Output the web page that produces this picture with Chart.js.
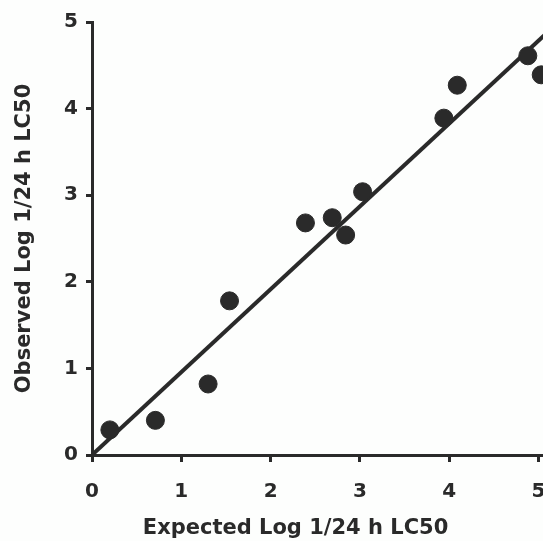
<!DOCTYPE html>
<html>
<head>
<meta charset="utf-8">
<script src="https://cdn.jsdelivr.net/npm/chart.js@4/dist/chart.umd.min.js"></script>
<style>
html,body{margin:0;padding:0;background:#fdfefd;}
#wrap{width:543px;height:541px;}
</style>
</head>
<body>
<div id="wrap"><canvas id="c" width="543" height="541"></canvas></div>
<script>
const expected = [0.20, 0.71, 1.30, 1.54, 2.39, 2.69, 2.84, 3.03, 3.94, 4.09, 4.88, 5.03];
const observed = [0.29, 0.40, 0.82, 1.78, 2.68, 2.74, 2.54, 3.04, 3.89, 4.27, 4.61, 4.39];
const fitX = [0, 5.1];
const fitY = [0, 4.88];
const xTicks = [0, 1, 2, 3, 4, 5];
const yTicks = [0, 1, 2, 3, 4, 5];
const xTitle = "Expected Log 1/24 h LC50";
const yTitle = "Observed Log 1/24 h LC50";

const ink = '#2a2a2a';
const tickFont = {family: 'DejaVu Sans', weight: 'bold', size: 20};
const titleFont = {family: 'DejaVu Sans', weight: 'bold', size: 21};

const bg = {
  id: 'bg',
  beforeDraw(chart) {
    const ctx = chart.ctx;
    ctx.save();
    ctx.fillStyle = '#fdfefd';
    ctx.fillRect(0, 0, chart.width, chart.height);
    ctx.restore();
  }
};

new Chart(document.getElementById('c'), {
  type: 'scatter',
  data: {
    datasets: [
      {
        type: 'line',
        data: fitX.map((x, i) => ({x, y: fitY[i]})),
        borderColor: ink,
        borderWidth: 4,
        pointRadius: 0,
        fill: false,
        order: 2
      },
      {
        data: expected.map((x, i) => ({x, y: observed[i]})),
        backgroundColor: ink,
        borderColor: ink,
        pointRadius: 9,
        pointHoverRadius: 9,
        clip: false,
        order: 1
      }
    ]
  },
  plugins: [bg],
  options: {
    responsive: false,
    animation: false,
    events: [],
    layout: {autoPadding: false, padding: {top: 22, right: 0, left: 0, bottom: 0}},
    plugins: {legend: {display: false}, tooltip: {enabled: false}},
    scales: {
      x: {
        type: 'linear',
        min: 0, max: 5.05,
        afterBuildTicks: s => { s.ticks = xTicks.map(v => ({value: v})); },
        afterFit: s => { s.height = 86; s.paddingRight = 0; s.paddingLeft = 0; },
        border: {display: true, color: ink, width: 3},
        grid: {drawOnChartArea: false, drawTicks: true, tickLength: 7, tickWidth: 3, tickColor: ink},
        ticks: {color: ink, font: tickFont, padding: 18, maxRotation: 0},
        title: {display: true, text: xTitle + '      ', color: ink, font: titleFont, padding: {top: 6, bottom: 0}}
      },
      y: {
        type: 'linear',
        min: 0, max: 5,
        afterBuildTicks: s => { s.ticks = yTicks.map(v => ({value: v})); },
        afterFit: s => { s.width = 92; s.paddingTop = 0; s.paddingBottom = 0; },
        border: {display: true, color: ink, width: 3},
        grid: {drawOnChartArea: false, drawTicks: true, tickLength: 6, tickWidth: 3, tickColor: ink},
        ticks: {color: ink, font: tickFont, padding: 8},
        title: {display: true, text: yTitle, color: ink, font: titleFont, padding: {top: 12, bottom: 16}}
      }
    }
  }
});
</script>
</body>
</html>
